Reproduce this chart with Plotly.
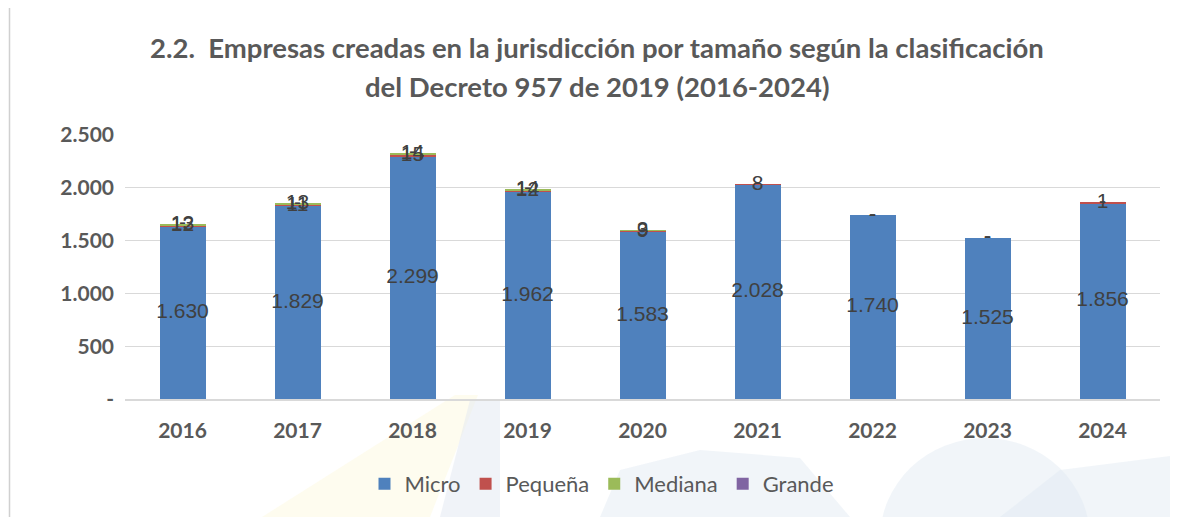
import plotly.graph_objects as go

years = ["2016", "2017", "2018", "2019", "2020", "2021", "2022", "2023", "2024"]
micro = [1630, 1829, 2299, 1962, 1583, 2028, 1740, 1525, 1856]
pequena = [12, 11, 15, 12, 9, 8, 0, 0, 1]
mediana = [13, 13, 14, 14, 3, 0, 0, 0, 0]
grande = [0, 0, 0, 0, 0, 0, 0, 0, 0]

series = [("Micro", micro, "#4F81BD"), ("Pequeña", pequena, "#C0504D"),
          ("Mediana", mediana, "#9BBB59"), ("Grande", grande, "#8064A2")]

ytick_vals = [0, 500, 1000, 1500, 2000, 2500]
ytick_text = ["-", "500", "1.000", "1.500", "2.000", "2.500"]


def fmt(v):
    return "-" if v == 0 else f"{v:,}".replace(",", ".")


fig = go.Figure()
for name, vals, col in series:
    fig.add_trace(go.Bar(x=years, y=vals, name=name, marker=dict(color=col, line=dict(width=0)),
                         width=0.4))

# data labels at the middle of each stacked segment
base = [0] * len(years)
for i, (name, vals, col) in enumerate(series):
    mids = [b + v / 2 for b, v in zip(base, vals)]
    fig.add_trace(go.Scatter(x=years, y=mids, mode="text", text=[fmt(v) for v in vals],
                             textposition="middle center", showlegend=False, hoverinfo="skip",
                             textfont=dict(family="Liberation Sans", size=21, color="#404040"),
                             cliponaxis=False))
    base = [b + v for b, v in zip(base, vals)]


# page pixel -> paper coordinates (plot area spans x 125..1160, y 135..399 on the page)
def X(px):
    return (px - 125) / 1035


def Y(py):
    return (399 - py) / 264


def path(points):
    return "M " + " L ".join(f"{X(a)},{Y(b)}" for a, b in points) + " Z"


shapes = [
    # faint watermark shapes
    dict(type="path", xref="paper", yref="paper", layer="below", line=dict(width=0),
         fillcolor="rgba(253,246,210,0.35)",
         path=path([(262, 517), (455, 395), (478, 395), (430, 517)])),
    dict(type="path", xref="paper", yref="paper", layer="below", line=dict(width=0),
         fillcolor="rgba(225,232,242,0.5)",
         path=path([(440, 517), (470, 400), (500, 400), (500, 517)])),
    dict(type="circle", xref="paper", yref="paper", layer="below", line=dict(width=0),
         fillcolor="rgba(225,232,242,0.45)",
         x0=X(880), x1=X(1090), y0=Y(640), y1=Y(438)),
    dict(type="path", xref="paper", yref="paper", layer="below", line=dict(width=0),
         fillcolor="rgba(225,232,242,0.45)",
         path=path([(600, 517), (620, 470), (700, 450), (800, 458), (850, 517)])),
    dict(type="path", xref="paper", yref="paper", layer="below", line=dict(width=0),
         fillcolor="rgba(225,232,242,0.45)",
         path=path([(1000, 517), (1060, 470), (1178, 455), (1178, 517)])),
    # left border of chart area
    dict(type="line", xref="paper", yref="paper", x0=X(9.5), x1=X(9.5), y0=Y(520), y1=Y(-2),
         line=dict(color="#D0D0D0", width=1.5)),
]

fig.update_layout(
    width=1170, height=509,
    barmode="stack",
    separators=",.",
    paper_bgcolor="white", plot_bgcolor="rgba(0,0,0,0)",
    margin=dict(l=117, r=18, t=127, b=118, autoexpand=False),
    font=dict(family="Lato", color="#595959"),
    shapes=shapes,
    showlegend=True,
    legend=dict(orientation="h", x=X(602), xanchor="center", y=Y(484), yanchor="middle",
                font=dict(family="Lato", size=22, color="#595959"), traceorder="normal",
                itemwidth=30, bgcolor="rgba(0,0,0,0)"),
    xaxis=dict(showgrid=False, showline=True, linecolor="#D9D9D9", linewidth=1.5,
               ticks="", ticklabelstandoff=12,
               tickfont=dict(family="Lato", size=21, color="#595959", weight="bold")),
    yaxis=dict(range=[0, 2500], tickvals=ytick_vals, ticktext=ytick_text,
               showgrid=True, gridcolor="#D9D9D9", gridwidth=1, zeroline=False,
               showline=False, ticks="", ticklabelstandoff=10,
               tickfont=dict(family="Lato", size=21, color="#595959", weight="bold")),
    annotations=[
        dict(text="<b>2.2.  Empresas creadas en la jurisdicción por tamaño según la clasificación</b>",
             xref="paper", yref="paper", x=X(597), y=Y(48), xanchor="center", yanchor="middle",
             showarrow=False, font=dict(family="Lato", size=27.5, color="#595959")),
        dict(text="<b>del Decreto 957 de 2019 (2016-2024)</b>",
             xref="paper", yref="paper", x=X(597), y=Y(87), xanchor="center", yanchor="middle",
             showarrow=False, font=dict(family="Lato", size=27.5, color="#595959")),
    ],
)

fig.write_html("out.html")
